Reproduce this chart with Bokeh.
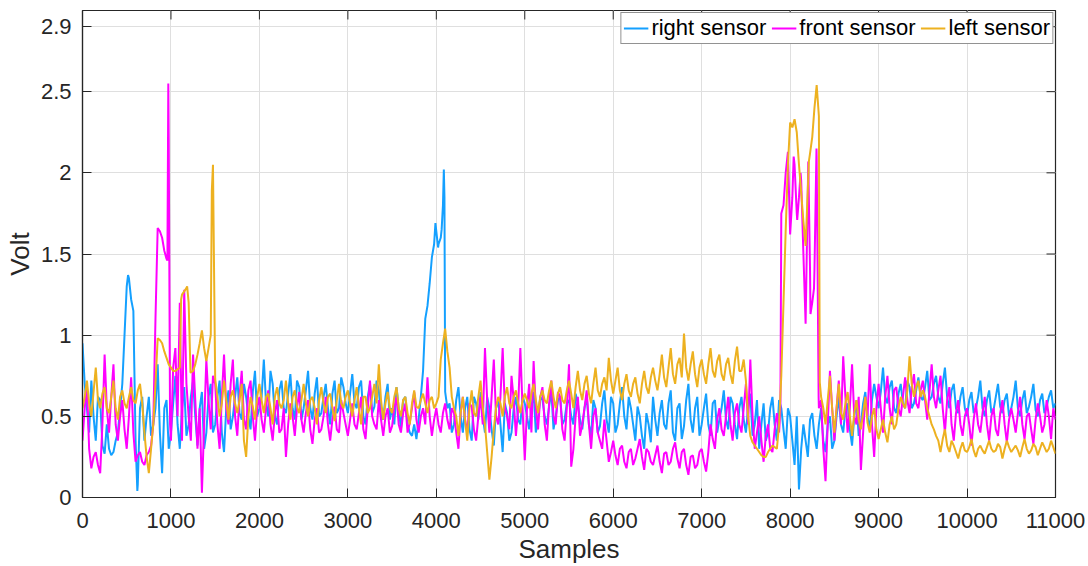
from bokeh.plotting import figure
from bokeh.models import (LinearAxis, FixedTicker, PrintfTickFormatter, Range1d,
                          Legend, LegendItem, Grid)
from bokeh.embed import file_html
from bokeh.resources import INLINE

# ---------------- data ----------------
samples = list(range(0, 11001, 50))          # main sample grid
mid_samples = list(range(25, 11000, 50))     # in-between samples
x_ticks = [0, 1000, 2000, 3000, 4000, 5000, 6000, 7000, 8000, 9000, 10000, 11000]
y_ticks = [0, 0.5, 1, 1.5, 2, 2.5, 2.9]
series_names = ["right sensor", "front sensor", "left sensor"]

right_y = [
    0.95, 0.55, 0.72, 0.35, 0.60, 0.27, 0.30, 0.28, 0.40, 0.70,
    1.30, 1.22, 0.35, 0.55, 0.35, 0.62, 0.45, 0.82, 0.15, 0.60,
    0.40, 0.75, 0.30, 0.68, 0.45, 0.72, 0.32, 0.65, 0.40, 0.70,
    0.45, 0.72, 0.28, 0.66, 0.50, 0.74, 0.48, 0.62, 0.42, 0.78,
    0.55, 0.85, 0.50, 0.70, 0.45, 0.72, 0.52, 0.76, 0.48, 0.68,
    0.55, 0.78, 0.48, 0.74, 0.52, 0.70, 0.45, 0.72, 0.55, 0.68,
    0.52, 0.76, 0.55, 0.72, 0.45, 0.70, 0.56, 0.66, 0.48, 0.70,
    0.55, 0.68, 0.42, 0.62, 0.40, 0.45, 0.48, 0.78, 1.18, 1.48,
    1.64, 1.60, 0.65, 0.58, 0.45, 0.68, 0.40, 0.62, 0.35, 0.58,
    0.65, 0.40, 0.55, 0.32, 0.60, 0.28, 0.52, 0.40, 0.62, 0.45,
    0.58, 0.42, 0.65, 0.48, 0.60, 0.45, 0.66, 0.50, 0.62, 0.48,
    0.60, 0.45, 0.58, 0.42, 0.62, 0.38, 0.55, 0.44, 0.66, 0.40,
    0.58, 0.45, 0.68, 0.42, 0.55, 0.35, 0.50, 0.30, 0.45, 0.62,
    0.38, 0.60, 0.42, 0.66, 0.35, 0.58, 0.44, 0.70, 0.40, 0.62,
    0.45, 0.64, 0.38, 0.60, 0.48, 0.66, 0.42, 0.58, 0.36, 0.62,
    0.40, 0.64, 0.45, 0.30, 0.58, 0.40, 0.62, 0.35, 0.55, 0.30,
    0.50, 0.20, 0.05, 0.45, 0.25, 0.52, 0.30, 0.55, 0.28, 0.50,
    0.35, 0.62, 0.40, 0.58, 0.32, 0.60, 0.45, 0.65, 0.42, 0.70,
    0.55, 0.80, 0.58, 0.72, 0.52, 0.70, 0.55, 0.68, 0.58, 0.74,
    0.60, 0.78, 0.62, 0.75, 0.58, 0.80, 0.55, 0.70, 0.52, 0.68,
    0.50, 0.65, 0.55, 0.72, 0.50, 0.66, 0.54, 0.70, 0.52, 0.64,
    0.55, 0.72, 0.50, 0.66, 0.56, 0.70, 0.50, 0.64, 0.56, 0.66,
    0.58,
]
right_mid = [
    0.70, 0.40, 0.50, 0.62, 0.32, 0.45, 0.26, 0.35, 0.55, 1.00,
    1.35, 1.15, 0.08, 0.62, 0.50, 0.38, 0.55, 0.40, 0.55, 0.30,
    0.58, 0.45, 0.55, 0.38, 0.62, 0.50, 0.55, 0.30, 0.62, 0.40,
    0.62, 0.40, 0.55, 0.42, 0.62, 0.52, 0.70, 0.50, 0.65, 0.50,
    0.62, 0.58, 0.78, 0.50, 0.66, 0.55, 0.64, 0.55, 0.72, 0.48,
    0.66, 0.55, 0.64, 0.50, 0.62, 0.55, 0.64, 0.52, 0.74, 0.58,
    0.64, 0.58, 0.68, 0.50, 0.62, 0.52, 0.72, 0.50, 0.62, 0.48,
    0.45, 0.55, 0.60, 0.45, 0.38, 0.36, 0.62, 1.10, 1.32, 1.56,
    1.56, 1.80, 0.55, 0.40, 0.60, 0.50, 0.55, 0.42, 0.62, 0.48,
    0.50, 0.62, 0.42, 0.55, 0.45, 0.58, 0.35, 0.55, 0.48, 0.62,
    0.50, 0.55, 0.40, 0.62, 0.50, 0.56, 0.42, 0.60, 0.45, 0.58,
    0.50, 0.64, 0.48, 0.55, 0.45, 0.60, 0.40, 0.58, 0.48, 0.62,
    0.40, 0.58, 0.50, 0.62, 0.45, 0.56, 0.38, 0.52, 0.34, 0.48,
    0.52, 0.45, 0.58, 0.40, 0.55, 0.36, 0.60, 0.48, 0.55, 0.38,
    0.55, 0.45, 0.58, 0.40, 0.55, 0.48, 0.62, 0.45, 0.55, 0.48,
    0.55, 0.38, 0.60, 0.45, 0.35, 0.55, 0.45, 0.60, 0.42, 0.55,
    0.35, 0.50, 0.30, 0.35, 0.48, 0.38, 0.45, 0.35, 0.45, 0.30,
    0.50, 0.45, 0.55, 0.42, 0.50, 0.38, 0.58, 0.50, 0.60, 0.62,
    0.65, 0.62, 0.68, 0.55, 0.64, 0.58, 0.72, 0.55, 0.66, 0.62,
    0.68, 0.60, 0.70, 0.62, 0.70, 0.62, 0.66, 0.55, 0.62, 0.55,
    0.60, 0.52, 0.62, 0.55, 0.60, 0.52, 0.62, 0.56, 0.60, 0.50,
    0.62, 0.55, 0.60, 0.52, 0.62, 0.54, 0.60, 0.52, 0.62, 0.55,
]
right_extra_x = [515, 620, 3990, 4020, 4060, 4085, 4092]
right_extra_y = [1.37, 0.04, 1.69, 1.54, 1.65, 2.02, 1.85]

front_y = [
    0.35, 0.70, 0.18, 0.28, 0.15, 0.88, 0.40, 0.82, 0.35, 0.60,
    0.30, 0.74, 0.22, 0.28, 0.20, 0.28, 0.45, 1.66, 1.60, 1.47,
    0.35, 0.92, 1.20, 1.28, 0.50, 0.88, 0.30, 0.03, 0.85, 0.42,
    0.70, 0.30, 0.88, 0.45, 0.85, 0.38, 0.78, 0.42, 0.72, 0.35,
    0.62, 0.40, 0.66, 0.35, 0.60, 0.42, 0.25, 0.58, 0.38, 0.65,
    0.40, 0.60, 0.33, 0.55, 0.42, 0.62, 0.35, 0.56, 0.40, 0.52,
    0.38, 0.58, 0.42, 0.62, 0.36, 0.72, 0.45, 0.60, 0.38, 0.55,
    0.44, 0.62, 0.40, 0.58, 0.46, 0.65, 0.40, 0.55, 0.74, 0.38,
    0.55, 0.40, 0.58, 0.42, 0.52, 0.30, 0.62, 0.40, 0.56, 0.35,
    0.62, 0.92, 0.40, 0.85, 0.45, 0.92, 0.50, 0.75, 0.38, 0.92,
    0.23, 0.70, 0.84, 0.42, 0.68, 0.35, 0.72, 0.45, 0.62, 0.35,
    0.82, 0.30, 0.62, 0.45, 0.66, 0.30, 0.55, 0.35, 0.48, 0.22,
    0.35, 0.20, 0.32, 0.18, 0.30, 0.24, 0.36, 0.17, 0.28, 0.20,
    0.32, 0.15, 0.28, 0.22, 0.34, 0.18, 0.30, 0.14, 0.26, 0.20,
    0.30, 0.16, 0.45, 0.30, 0.55, 0.38, 0.62, 0.35, 0.58, 0.40,
    0.70, 0.85, 0.30, 0.50, 0.22, 0.45, 0.28, 0.52, 1.75, 2.00,
    1.62, 2.05, 1.85, 1.50, 1.90, 1.20, 2.10, 0.60, 0.10, 0.78,
    0.35, 0.72, 0.87, 0.40, 0.82, 0.45, 0.17, 0.62, 0.82, 0.25,
    0.70, 0.40, 0.75, 0.45, 0.68, 0.50, 0.74, 0.52, 0.76, 0.55,
    0.72, 0.48, 0.82, 0.55, 0.75, 0.40, 0.68, 0.35, 0.60, 0.38,
    0.55, 0.32, 0.58, 0.40, 0.62, 0.35, 0.55, 0.38, 0.60, 0.34,
    0.55, 0.40, 0.62, 0.36, 0.52, 0.33, 0.58, 0.40, 0.60, 0.36,
    0.48,
]
front_mid = [
    0.55, 0.30, 0.25, 0.20, 0.45, 0.55, 0.62, 0.45, 0.50, 0.42,
    0.50, 0.40, 0.26, 0.22, 0.26, 0.32, 1.10, 1.64, 1.52, 2.20,
    0.80, 0.50, 0.35, 0.70, 0.35, 0.60, 0.55, 0.45, 0.60, 0.75,
    0.45, 0.62, 0.55, 0.70, 0.50, 0.62, 0.48, 0.66, 0.50, 0.55,
    0.48, 0.55, 0.45, 0.52, 0.40, 0.55, 0.45, 0.50, 0.55, 0.48,
    0.52, 0.42, 0.48, 0.40, 0.50, 0.45, 0.48, 0.42, 0.60, 0.45,
    0.48, 0.45, 0.52, 0.42, 0.55, 0.50, 0.42, 0.48, 0.50, 0.40,
    0.55, 0.45, 0.52, 0.40, 0.55, 0.48, 0.50, 0.45, 0.50, 0.48,
    0.45, 0.52, 0.48, 0.55, 0.40, 0.52, 0.48, 0.58, 0.42, 0.50,
    0.45, 0.60, 0.62, 0.50, 0.62, 0.55, 0.42, 0.60, 0.55, 0.55,
    0.55, 0.40, 0.55, 0.62, 0.45, 0.58, 0.50, 0.65, 0.42, 0.55,
    0.19, 0.50, 0.38, 0.55, 0.45, 0.50, 0.40, 0.30, 0.35, 0.28,
    0.26, 0.30, 0.22, 0.28, 0.20, 0.30, 0.25, 0.30, 0.22, 0.26,
    0.22, 0.27, 0.20, 0.30, 0.24, 0.28, 0.20, 0.25, 0.18, 0.28,
    0.22, 0.28, 0.36, 0.48, 0.42, 0.50, 0.45, 0.52, 0.45, 0.55,
    0.45, 0.50, 0.40, 0.35, 0.38, 0.30, 0.42, 0.40, 1.80, 2.13,
    1.85, 1.75, 1.95, 1.07, 1.40, 1.40, 0.55, 0.30, 0.45, 0.55,
    0.55, 0.45, 0.62, 0.55, 0.50, 0.62, 0.40, 0.50, 0.45, 0.55,
    0.55, 0.62, 0.55, 0.66, 0.55, 0.62, 0.60, 0.68, 0.58, 0.66,
    0.60, 0.65, 0.62, 0.66, 0.55, 0.60, 0.45, 0.52, 0.45, 0.50,
    0.45, 0.48, 0.45, 0.52, 0.45, 0.50, 0.42, 0.52, 0.45, 0.48,
    0.48, 0.52, 0.45, 0.50, 0.42, 0.48, 0.50, 0.45, 0.50, 0.55,
]
front_extra_x = [960, 970, 990, 7890, 8040, 8080, 8118, 8205, 8230, 8270, 8298, 8322]
front_extra_y = [1.46, 2.55, 0.45, 0.55, 2.10, 1.71, 2.00, 2.07, 1.13, 1.29, 2.15, 0.62]

left_y = [
    0.55, 0.72, 0.50, 0.80, 0.55, 0.68, 0.52, 0.72, 0.48, 0.66,
    0.55, 0.68, 0.58, 0.70, 0.40, 0.15, 0.45, 0.98, 0.95, 0.86,
    0.80, 0.78, 0.80, 1.27, 1.20, 0.78, 0.88, 1.03, 0.84, 1.00,
    0.73, 0.50, 0.72, 0.48, 0.66, 0.52, 0.70, 0.25, 0.62, 0.48,
    0.70, 0.52, 0.64, 0.45, 0.68, 0.55, 0.72, 0.48, 0.66, 0.52,
    0.70, 0.50, 0.62, 0.45, 0.68, 0.52, 0.64, 0.47, 0.70, 0.55,
    0.66, 0.50, 0.68, 0.45, 0.62, 0.55, 0.70, 0.82, 0.48, 0.65,
    0.52, 0.68, 0.50, 0.62, 0.45, 0.66, 0.55, 0.64, 0.52, 0.62,
    0.58, 0.85, 1.04, 0.80, 0.55, 0.38, 0.62, 0.35, 0.66, 0.50,
    0.72, 0.45, 0.11, 0.42, 0.62, 0.50, 0.68, 0.55, 0.66, 0.52,
    0.64, 0.55, 0.70, 0.52, 0.66, 0.58, 0.72, 0.55, 0.68, 0.58,
    0.72, 0.55, 0.78, 0.60, 0.75, 0.58, 0.80, 0.62, 0.74, 0.86,
    0.64, 0.80, 0.60, 0.76, 0.62, 0.74, 0.58, 0.78, 0.64, 0.80,
    0.66, 0.88, 0.68, 0.92, 0.70, 0.86, 1.01, 0.72, 0.90, 0.68,
    0.85, 0.70, 0.92, 0.74, 0.88, 0.72, 0.86, 0.70, 0.93, 0.78,
    0.72, 0.38, 0.32, 0.28, 0.25, 0.28, 0.32, 0.30, 0.75, 1.65,
    2.31, 2.33, 2.05, 1.70, 1.90, 2.22, 2.54, 0.62, 0.45, 0.75,
    0.40, 0.70, 0.48, 0.65, 0.38, 0.60, 0.42, 0.62, 0.40, 0.55,
    0.36, 0.48, 0.34, 0.50, 0.45, 0.62, 0.55, 0.87, 0.62, 0.72,
    0.66, 0.55, 0.45, 0.38, 0.28, 0.42, 0.28, 0.32, 0.24, 0.34,
    0.28, 0.36, 0.25, 0.32, 0.27, 0.35, 0.28, 0.33, 0.24, 0.35,
    0.28, 0.32, 0.25, 0.36, 0.27, 0.33, 0.26, 0.34, 0.28, 0.35,
    0.27,
]
left_mid = [
    0.62, 0.58, 0.65, 0.60, 0.64, 0.55, 0.62, 0.55, 0.62, 0.58,
    0.62, 0.60, 0.66, 0.58, 0.25, 0.30, 0.70, 0.97, 0.90, 0.82,
    0.78, 0.79, 1.25, 1.29, 0.77, 0.82, 0.95, 0.92, 0.92, 2.05,
    0.62, 0.58, 0.60, 0.62, 0.58, 0.60, 0.35, 0.50, 0.56, 0.62,
    0.60, 0.62, 0.55, 0.62, 0.58, 0.60, 0.58, 0.62, 0.56, 0.60,
    0.58, 0.60, 0.55, 0.60, 0.58, 0.62, 0.55, 0.60, 0.58, 0.62,
    0.58, 0.60, 0.55, 0.62, 0.52, 0.62, 0.58, 0.60, 0.58, 0.55,
    0.62, 0.55, 0.60, 0.52, 0.58, 0.56, 0.60, 0.58, 0.60, 0.55,
    0.62, 0.95, 0.90, 0.62, 0.50, 0.52, 0.48, 0.55, 0.52, 0.62,
    0.55, 0.28, 0.25, 0.55, 0.58, 0.62, 0.58, 0.62, 0.58, 0.60,
    0.60, 0.64, 0.60, 0.62, 0.60, 0.66, 0.62, 0.64, 0.60, 0.66,
    0.64, 0.68, 0.66, 0.70, 0.64, 0.70, 0.66, 0.70, 0.66, 0.72,
    0.72, 0.66, 0.70, 0.66, 0.70, 0.64, 0.70, 0.68, 0.74, 0.72,
    0.76, 0.74, 0.80, 0.76, 0.82, 0.74, 0.80, 0.82, 0.76, 0.80,
    0.76, 0.82, 0.78, 0.84, 0.76, 0.82, 0.76, 0.84, 0.78, 0.85,
    0.50, 0.34, 0.30, 0.26, 0.25, 0.30, 0.31, 0.45, 1.20, 2.05,
    2.28, 2.25, 1.88, 1.55, 2.12, 2.40, 2.35, 0.55, 0.60, 0.55,
    0.55, 0.52, 0.58, 0.50, 0.52, 0.48, 0.52, 0.46, 0.50, 0.42,
    0.42, 0.40, 0.45, 0.42, 0.55, 0.58, 0.66, 0.70, 0.68, 0.62,
    0.62, 0.50, 0.42, 0.35, 0.36, 0.32, 0.35, 0.28, 0.30, 0.29,
    0.31, 0.29, 0.30, 0.29, 0.31, 0.30, 0.29, 0.31, 0.30, 0.31,
    0.30, 0.29, 0.31, 0.30, 0.29, 0.31, 0.30, 0.31, 0.30, 0.31,
]
left_extra_x = [1115, 1183, 1221, 1462, 8212, 8335]
left_extra_y = [1.22, 1.30, 0.77, 1.89, 2.07, 0.71]

colors = ["#14A0FF", "#FF00FF", "#EDB120"]

for arr in (right_y, front_y, left_y):
    assert len(arr) == len(samples), len(arr)
for arr in (right_mid, front_mid, left_mid):
    assert len(arr) == len(mid_samples), len(arr)


def merge(grid_y, mid_y, ex_x, ex_y):
    pts = sorted(list(zip(samples, grid_y)) + list(zip(mid_samples, mid_y))
                 + list(zip(ex_x, ex_y)))
    return [pt[0] for pt in pts], [pt[1] for pt in pts]


all_series = [merge(right_y, right_mid, right_extra_x, right_extra_y),
              merge(front_y, front_mid, front_extra_x, front_extra_y),
              merge(left_y, left_mid, left_extra_x, left_extra_y)]

FONT = "Liberation Sans"
TXT = "#262626"
X0, X1, Y0, Y1 = 0, 11000, 0, 3.0
FRAME_W, FRAME_H = 973, 488
TICK_PX = 9

p = figure(width=1088, height=566, output_backend="svg", toolbar_location=None,
           x_range=Range1d(X0, X1), y_range=Range1d(Y0, Y1),
           min_border_left=82, min_border_right=33, min_border_top=10,
           min_border_bottom=68, x_axis_location=None, y_axis_location=None)
p.background_fill_color = "white"
p.border_fill_color = "white"
p.outline_line_color = TXT
p.outline_line_width = 1.2

xb = LinearAxis(ticker=FixedTicker(ticks=x_ticks), axis_label="Samples")
yl = LinearAxis(ticker=FixedTicker(ticks=y_ticks), axis_label="Volt",
                formatter=PrintfTickFormatter(format="%g"))
for ax in (xb, yl):
    ax.axis_line_color = TXT
    ax.axis_line_width = 1.2
    ax.major_tick_in = TICK_PX
    ax.major_tick_out = 0
    ax.major_tick_line_color = TXT
    ax.minor_tick_line_color = None
    ax.major_label_text_font = FONT
    ax.major_label_text_color = TXT
    ax.major_label_text_font_size = "22px"
    ax.axis_label_text_font = FONT
    ax.axis_label_text_font_style = "normal"
    ax.axis_label_text_color = TXT
    ax.axis_label_text_font_size = "26px"
xb.major_label_standoff = 15
xb.axis_label_standoff = 3
yl.major_label_standoff = 11
yl.axis_label_standoff = 3
p.add_layout(xb, "below")
p.add_layout(yl, "left")

p.add_layout(Grid(dimension=0, ticker=xb.ticker, grid_line_color="#DFDFDF",
                  grid_line_width=1))
p.add_layout(Grid(dimension=1, ticker=yl.ticker, grid_line_color="#DFDFDF",
                  grid_line_width=1))

# inward tick marks on the top and right edges of the box
dy = TICK_PX * (Y1 - Y0) / FRAME_H
dx = TICK_PX * (X1 - X0) / FRAME_W
p.segment(x0=x_ticks, y0=[Y1] * len(x_ticks), x1=x_ticks, y1=[Y1 - dy] * len(x_ticks),
          line_color=TXT, line_width=1)
p.segment(x0=[X1] * len(y_ticks), y0=y_ticks, x1=[X1 - dx] * len(y_ticks), y1=y_ticks,
          line_color=TXT, line_width=1)

items = []
for (xs, ys), c, name in zip(all_series, colors, series_names):
    r = p.line(xs, ys, line_color=c, line_width=2.0)
    items.append(LegendItem(label=name, renderers=[r]))

leg = Legend(items=items, orientation="horizontal", location="top_right")
leg.label_text_font = FONT
leg.label_text_font_size = "22px"
leg.label_text_color = "black"
leg.glyph_width = 25
leg.glyph_height = 20
leg.label_standoff = 3
leg.spacing = 5
leg.padding = 2
leg.margin = 2
leg.border_line_color = "#262626"
leg.border_line_width = 1
leg.background_fill_alpha = 1
leg.label_height = 20
p.add_layout(leg)

open("out.html", "w").write(file_html(p, INLINE))
